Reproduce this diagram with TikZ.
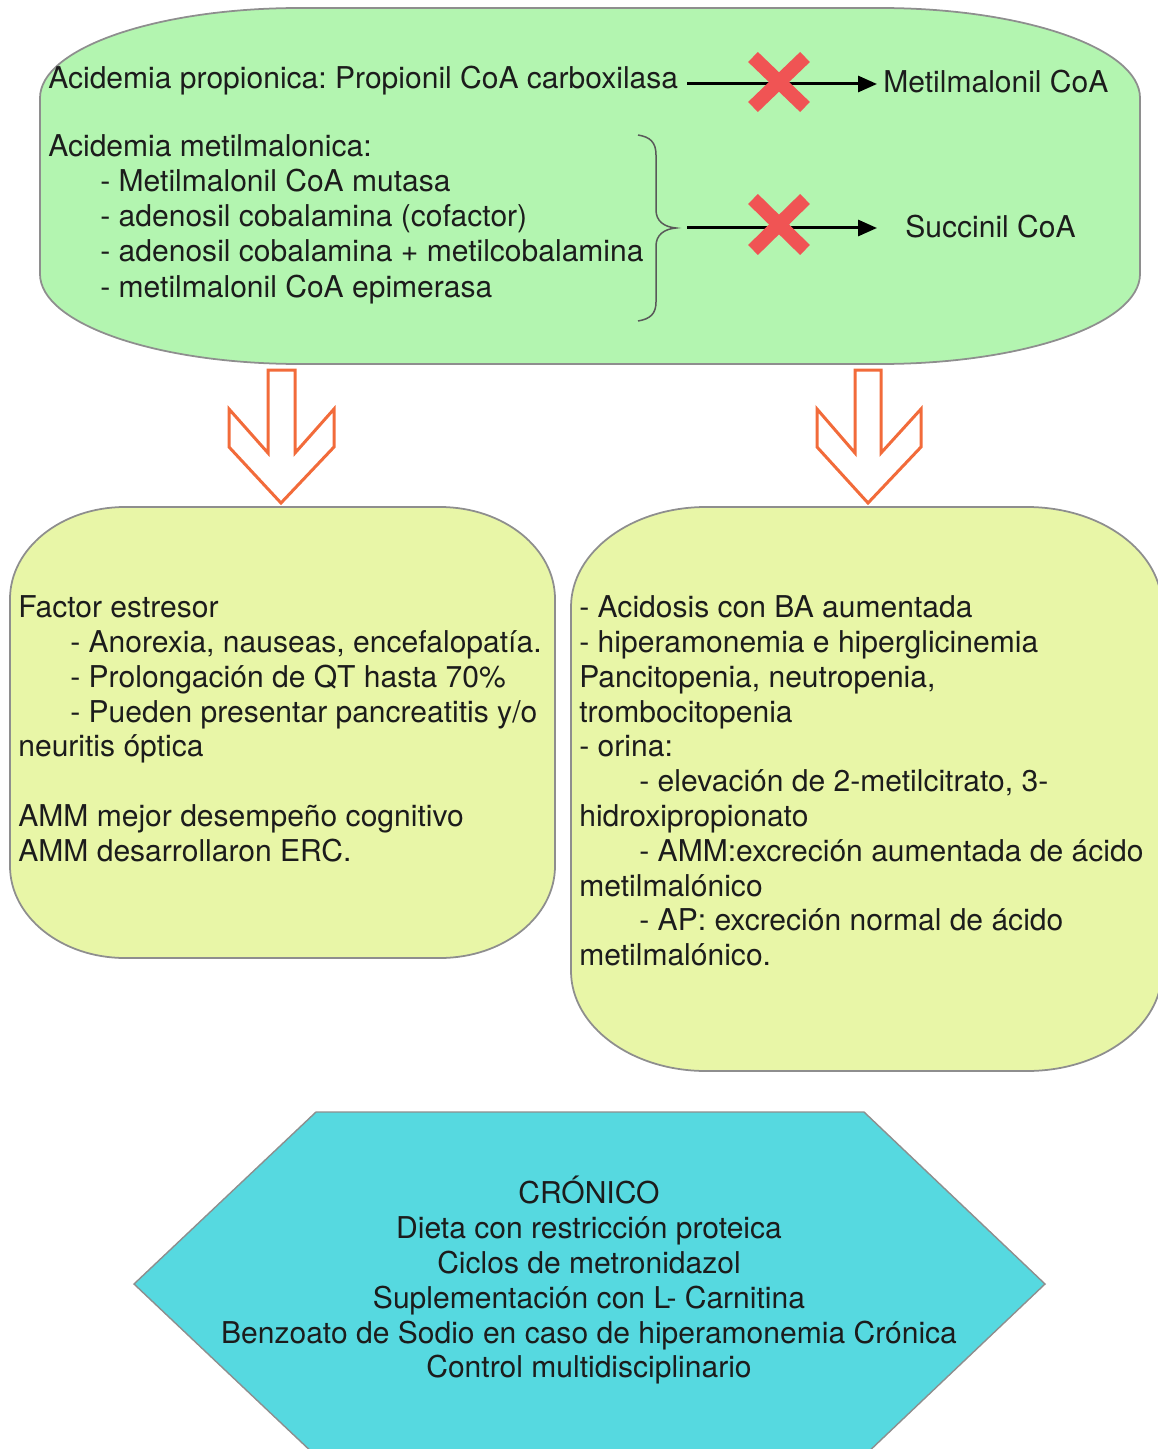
\documentclass[tikz,border=0pt]{standalone}
\usepackage{fontspec}
\setmainfont{TeX Gyre Heros}
\usetikzlibrary{arrows.meta}
\frenchspacing

\definecolor{panelgreen}{HTML}{B3F5B0}
\definecolor{panelyellow}{HTML}{E8F6A7}
\definecolor{panelcyan}{HTML}{56D9E0}
\definecolor{edgegrey}{HTML}{8E8E8E}
\definecolor{blockorange}{HTML}{F26B3A}
\definecolor{crossred}{HTML}{F05454}
\definecolor{inkdark}{HTML}{1C1C1C}

% rectangle with elliptical corners: style, x1, y1, x2, y2, rx, ry
\newcommand\roundpanel[7]{%
  \path[#1] ({#2+#6},#3) -- ({#4-#6},#3)
    .. controls ({#4-#6+0.5523*#6},#3) and (#4,{#3+#7-0.5523*#7}) .. (#4,{#3+#7})
    -- (#4,{#5-#7})
    .. controls (#4,{#5-#7+0.5523*#7}) and ({#4-#6+0.5523*#6},#5) .. ({#4-#6},#5)
    -- ({#2+#6},#5)
    .. controls ({#2+#6-0.5523*#6},#5) and (#2,{#5-#7+0.5523*#7}) .. (#2,{#5-#7})
    -- (#2,{#3+#7})
    .. controls (#2,{#3+#7-0.5523*#7}) and ({#2+#6-0.5523*#6},#3) .. cycle;}

\tikzset{
  panel/.style={draw=edgegrey, line width=1pt},
  line/.style={inner sep=0pt, anchor=base west, text=inkdark,
    font=\fontsize{17.1}{20}\selectfont},
  cline/.style={line, anchor=base},
  flow/.style={draw=black, line width=3*0.02cm,
    -{Triangle[length=19*0.02cm, width=16*0.02cm]}},
  cross/.style={draw=crossred, line width=14*0.02cm},
  bigarrow/.style={draw=blockorange, line width=3*0.02cm, line join=miter, fill=white},
  bracepath/.style={draw=black!65, line width=1.5*0.02cm}
}

\begin{document}
\begin{tikzpicture}[x=0.02cm, y=-0.02cm]
\useasboundingbox (0,0) rectangle (1158,1449);
\begin{scope}
\clip (0,0) rectangle (1158,1449);

% panels
\roundpanel{panel, fill=panelgreen}{40}{8}{1140}{364}{260}{90}
\roundpanel{panel, fill=panelyellow}{10}{507}{555}{958}{115}{92}
\roundpanel{panel, fill=panelyellow}{571}{507}{1162}{1071}{135}{100}
\path[panel, line width=0.8pt, fill=panelcyan]
  (316,1112) -- (864,1112) -- (1045,1284) -- (864,1456) -- (316,1456) -- (134,1284) -- cycle;

% hollow block arrows between the panels
\path[bigarrow] (268,370) -- (295,370) -- (295,453) -- (334,409) -- (334,447)
  -- (281,503) -- (229,447) -- (229,409) -- (268,453) -- cycle;
\path[bigarrow] (855,370) -- (881,370) -- (881,453) -- (921,409) -- (921,447)
  -- (868,503) -- (817,447) -- (817,409) -- (855,453) -- cycle;
\end{scope}

% upper panel text
\node[line] (prop) at (48,89) {Acidemia propionica: Propionil CoA carboxilasa};
\node[line] (mmcoa) at (883,93) {Metilmalonil CoA};
\node[line] (amm) at (48,157) {Acidemia metilmalonica:};
\node[line] (amm1) at (100,192) {- Metilmalonil CoA mutasa};
\node[line] (amm2) at (100,227) {- adenosil cobalamina (cofactor)};
\node[line] (amm3) at (100,262) {- adenosil cobalamina + metilcobalamina};
\node[line] (amm4) at (100,297) {- metilmalonil CoA epimerasa};
\node[line] (succ) at (905,238) {Succinil CoA};

% brace grouping the methylmalonic list
\coordinate (bt) at (676,228);
\path[bracepath] (638,135) .. controls (650,137) and (656,142) .. (656,155)
  -- (656,210) .. controls (656,221) and (664,227) .. (bt)
  .. controls (664,229) and (656,235) .. (656,246)
  -- (656,302) .. controls (656,314) and (650,319) .. (638,321);

% blocked reactions
\coordinate (s1) at (687,84);
\coordinate (e1) at (877,84);
\coordinate (s2) at (687,228);
\coordinate (e2) at (877,228);
\draw[flow] (s1) -- (e1);
\draw[flow] (s2) -- (e2);
\draw[cross] (753,57) -- (805,107) (805,57) -- (753,107);
\draw[cross] (753,199) -- (805,250) (805,199) -- (753,250);

% left lower panel
\node[line] (l1) at (18,617) {Factor estresor};
\node[line] (l2) at (70,652) {- Anorexia, nauseas, encefalopatía.};
\node[line] (l3) at (70,687) {- Prolongación de QT hasta 70\%};
\node[line] (l4) at (70,722) {- Pueden presentar pancreatitis y/o};
\node[line] (l5) at (18,756) {neuritis óptica};
\node[line] (l6) at (18,826) {AMM mejor desempeño cognitivo};
\node[line] (l7) at (18,861) {AMM desarrollaron ERC.};

% right lower panel
\node[line] (r1) at (579,617) {- Acidosis con BA aumentada};
\node[line] (r2) at (579,652) {- hiperamonemia e hiperglicinemia};
\node[line] (r3) at (579,687) {Pancitopenia, neutropenia,};
\node[line] (r4) at (579,722) {trombocitopenia};
\node[line] (r5) at (579,756) {- orina:};
\node[line] (r6) at (639,791) {- elevación de 2-metilcitrato, 3-};
\node[line] (r7) at (579,826) {hidroxipropionato};
\node[line] (r8) at (639,861) {- AMM:excreción aumentada de ácido};
\node[line] (r9) at (579,896) {metilmalónico};
\node[line] (r10) at (639,930) {- AP: excreción normal de ácido};
\node[line] (r11) at (579,965) {metilmalónico.};

% treatment hexagon
\node[cline] (h1) at (589,1203) {CRÓNICO};
\node[cline] (h2) at (589,1238) {Dieta con restricción proteica};
\node[cline] (h3) at (589,1273) {Ciclos de metronidazol};
\node[cline] (h4) at (589,1308) {Suplementación con L- Carnitina};
\node[cline] (h5) at (589,1343) {Benzoato de Sodio en caso de hiperamonemia Crónica};
\node[cline] (h6) at (589,1377) {Control multidisciplinario};
\end{tikzpicture}
\end{document}
